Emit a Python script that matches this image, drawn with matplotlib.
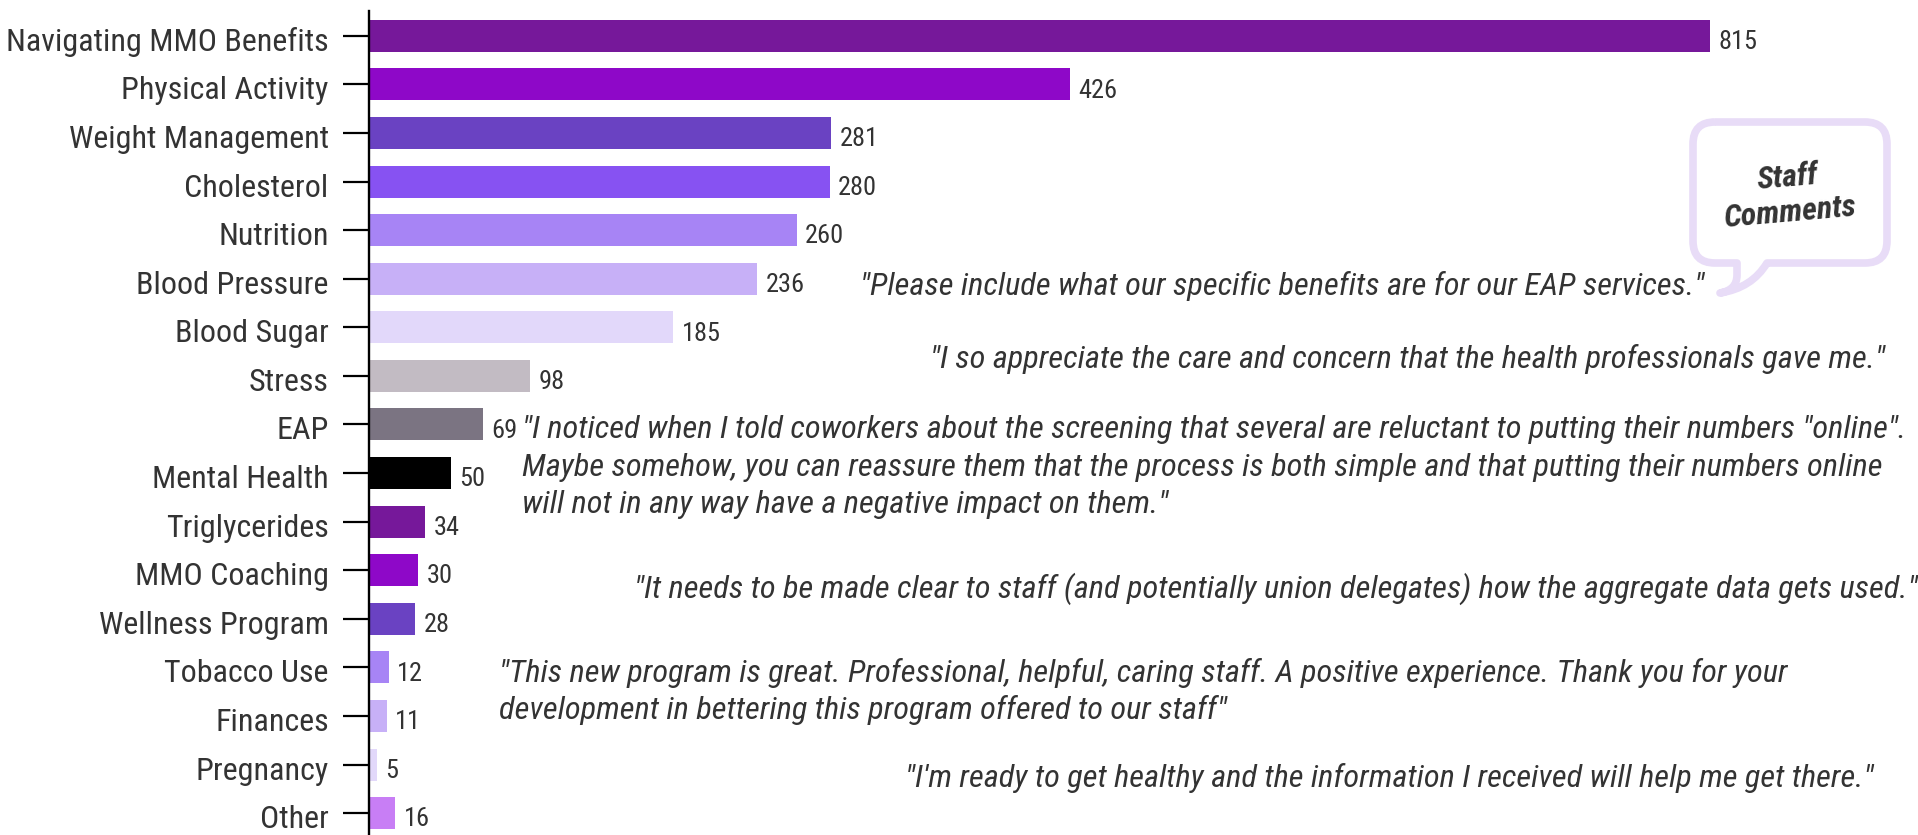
import matplotlib
matplotlib.use("Agg")
import matplotlib.pyplot as plt
from matplotlib.path import Path
from matplotlib.patches import PathPatch
from matplotlib.transforms import ScaledTranslation
import numpy as np

# Datos
categorias = [
    "Navigating MMO Benefits", "Physical Activity", "Weight Management",
    "Cholesterol", "Nutrition", "Blood Pressure", "Blood Sugar", "Stress",
    "EAP", "Mental Health", "Triglycerides", "MMO Coaching",
    "Wellness Program", "Tobacco Use", "Finances", "Pregnancy", "Other",
]
valores = [815, 426, 281, 280, 260, 236, 185, 98, 69, 50, 34, 30, 28, 12, 11, 5, 16]
colores = [
    "#76189a", "#8e08c8", "#6a42c2", "#8752f2", "#a784f5", "#c7b0f7",
    "#e2d8fa", "#c2bbc3", "#7b7482", "#000000", "#76189a", "#8e08c8",
    "#6a42c2", "#a784f5", "#c7b0f7", "#e2d8fa", "#c87ef5",
]

comentarios = [
    ["\"Please include what our specific benefits are for our EAP services.\""],
    ["\"I so appreciate the care and concern that the health professionals gave me.\""],
    ["\"I noticed when I told coworkers about the screening that several are reluctant to putting their numbers \"online\".",
     "Maybe somehow, you can reassure them that the process is both simple and that putting their numbers online",
     "will not in any way have a negative impact on them.\""],
    ["\"It needs to be made clear to staff (and potentially union delegates) how the aggregate data gets used.\""],
    ["\"This new program is great. Professional, helpful, caring staff. A positive experience. Thank you for your",
     "development in bettering this program offered to our staff\""],
    ["\"I'm ready to get healthy and the information I received will help me get there.\""],
]
# posiciones en pixeles (x izquierda, y de la primera linea desde arriba)
pos_comentarios = [(860, 286), (930, 359), (522, 430), (634, 589), (499, 673), (905, 778)]
salto = 37.4

W, H = 1918, 835
fuente = ["Roboto Condensed", "Roboto", "DejaVu Sans"]
gris = "#333333"

plt.rcParams["font.family"] = fuente

fig = plt.figure(figsize=(W / 100, H / 100), dpi=100)
x0 = 369
ax = fig.add_axes([x0 / W, 0, 1 - x0 / W, 1 - 11 / H])

y = np.arange(len(categorias))
ax.barh(y, valores, height=0.66, color=colores)
ax.set_yticks(y)
ax.set_yticklabels(categorias, fontsize=23, color=gris)
ax.set_xlim(0, (W - x0) / 1.645)
ax.set_ylim(16.45, -0.51)
ax.set_xticks([])
for s in ["top", "right", "bottom"]:
    ax.spines[s].set_visible(False)
ax.spines["left"].set_linewidth(1.7)
ax.tick_params(axis="y", length=19, width=1.6, pad=10)

# bajar un poco las etiquetas
bajar = ScaledTranslation(0, -2.5 / 72, fig.dpi_scale_trans)
for lbl in ax.get_yticklabels():
    lbl.set_transform(lbl.get_transform() + bajar)

for yi, v in zip(y, valores):
    ax.annotate(str(v), (v, yi), xytext=(6, -4.5), textcoords="offset points",
                va="center", ha="left", fontsize=19, color=gris)


def px(x, yy):
    return x / W, 1 - yy / H


for lineas, (cx, cy) in zip(comentarios, pos_comentarios):
    for i, linea in enumerate(lineas):
        fx, fy = px(cx, cy + i * salto)
        fig.text(fx, fy, linea, ha="left", va="center", fontsize=23.3,
                 style="italic", color=gris)

# Globo de dialogo
L, R, T, B, r = 1693, 1887, 122, 263, 22
pts = [
    (L + r, T), (R - r, T), (R, T), (R, T + r), (R, B - r), (R, B), (R - r, B),
    (1767, B), (1752, 288), (1720, 293), (1737, 290), (1737, 275), (1737, B),
    (L + r, B), (L, B), (L, B - r), (L, T + r), (L, T), (L + r, T),
]
codes = [Path.MOVETO, Path.LINETO, Path.CURVE3, Path.CURVE3, Path.LINETO,
         Path.CURVE3, Path.CURVE3, Path.LINETO, Path.CURVE3, Path.CURVE3,
         Path.CURVE3, Path.CURVE3, Path.LINETO, Path.LINETO, Path.CURVE3,
         Path.CURVE3, Path.LINETO, Path.CURVE3, Path.CURVE3]
burbuja = Path([px(a, b) for a, b in pts], codes)
fig.patches.append(PathPatch(burbuja, facecolor="white", edgecolor="#e8dcf7",
                             linewidth=5.5, transform=fig.transFigure,
                             joinstyle="round"))
bx, by = px(1789, 195)
fig.text(bx, by, "Staff\nComments", ha="center", va="center", fontsize=23,
         weight="bold", style="italic", color=gris, rotation=5,
         linespacing=1.25)

fig.savefig("out.png", dpi=100)
